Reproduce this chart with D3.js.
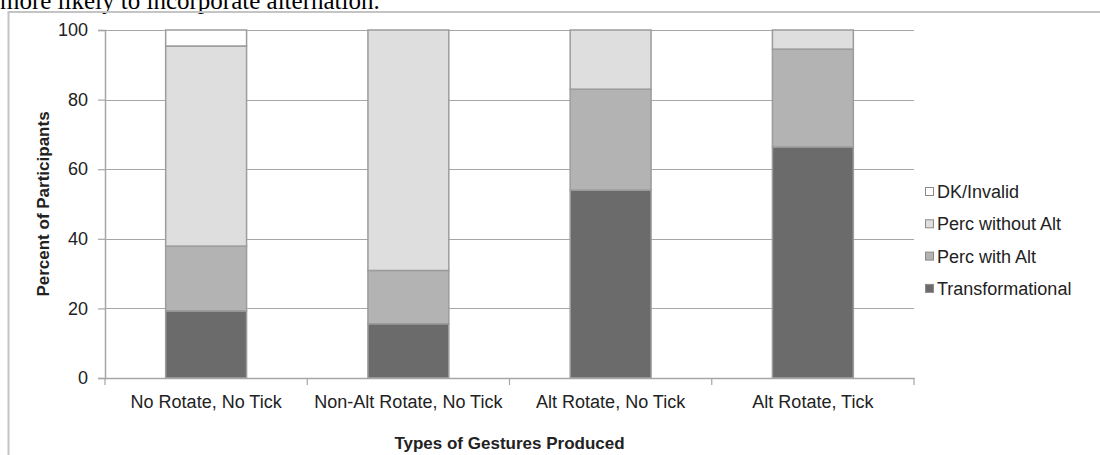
<!DOCTYPE html>
<html>
<head>
<meta charset="utf-8">
<script src="https://cdn.jsdelivr.net/npm/d3@7"></script>
<style>
  body { margin: 0; background: #fff; }
  svg { display: block; }
  text { font-family: "Liberation Sans", Arial, sans-serif; fill: #222; }
</style>
</head>
<body>
<div id="chart"></div>
<script>
// data
const categories = ["No Rotate, No Tick", "Non-Alt Rotate, No Tick", "Alt Rotate, No Tick", "Alt Rotate, Tick"];
const seriesNames = ["Transformational", "Perc with Alt", "Perc without Alt", "DK/Invalid"];
const transformational = [19.3, 15.6, 54.0, 66.4];
const percWithAlt = [18.6, 15.3, 29.0, 28.1];
const percWithoutAlt = [57.5, 69.1, 17.0, 5.5];
const dkInvalid = [4.6, 0, 0, 0];
const yTicks = [0, 20, 40, 60, 80, 100];

const colors = ["#6b6b6b", "#b3b3b3", "#dedede", "#ffffff"];

const width = 1100;
const height = 455;
const margin = {left: 105, right: 186, top: 30, bottom: 77};

const svg = d3.select("#chart")
  .append("svg")
  .attr("width", width)
  .attr("height", height);

// caption text, cut off at the top like in the source
svg.append("text")
  .attr("x", 0)
  .attr("y", 9)
  .style("font-family", "'Liberation Serif', 'Times New Roman', serif")
  .style("font-size", "25px")
  .style("fill", "#000")
  .text("more likely to incorporate alternation.");

// chart frame
svg.append("path")
  .attr("d", `M8.5,${height} V12 H${width}`)
  .attr("fill", "none")
  .attr("stroke", "#c4c4c4")
  .attr("stroke-width", 2);

const x = d3.scaleBand()
  .domain(categories)
  .range([margin.left, width - margin.right])
  .paddingInner(0.6)
  .paddingOuter(0.3);

const y = d3.scaleLinear()
  .domain([0, 100])
  .range([height - margin.bottom, margin.top]);

// gridlines
svg.append("g")
  .selectAll("line")
  .data(yTicks.filter(d => d > 0))
  .enter()
  .append("line")
  .attr("x1", margin.left)
  .attr("x2", width - margin.right)
  .attr("y1", d => Math.round(y(d)) + 0.5)
  .attr("y2", d => Math.round(y(d)) + 0.5)
  .attr("stroke", "#a6a6a6")
  .attr("stroke-width", 1.2);

// stack the series
const rows = categories.map((c, i) => ({
  cat: c,
  "Transformational": transformational[i],
  "Perc with Alt": percWithAlt[i],
  "Perc without Alt": percWithoutAlt[i],
  "DK/Invalid": dkInvalid[i]
}));
const stacked = d3.stack().keys(seriesNames)(rows);

const layers = svg.append("g")
  .selectAll("g")
  .data(stacked)
  .enter()
  .append("g")
  .attr("fill", (d, i) => colors[i]);

layers.selectAll("rect")
  .data(d => d.filter(s => s[1] - s[0] > 0))
  .enter()
  .append("rect")
  .attr("x", d => x(d.data.cat))
  .attr("width", x.bandwidth())
  .attr("y", d => y(d[1]))
  .attr("height", d => y(d[0]) - y(d[1]))
  .attr("stroke", "#9c9c9c")
  .attr("stroke-width", 1.5);

// y axis
const yAxis = svg.append("g")
  .attr("transform", `translate(${margin.left},0)`)
  .call(d3.axisLeft(y).tickValues(yTicks).tickSize(7).tickPadding(10));
yAxis.select(".domain").attr("stroke", "#a6a6a6").attr("stroke-width", 1.5);
yAxis.selectAll(".tick line").attr("stroke", "#a6a6a6").attr("stroke-width", 1.2);
yAxis.selectAll(".tick text")
  .style("font-family", "'Liberation Sans', Arial, sans-serif")
  .style("font-size", "18px")
  .attr("fill", "#222");

// x axis
const xAxis = svg.append("g")
  .attr("transform", `translate(0,${height - margin.bottom})`)
  .call(d3.axisBottom(x).tickSize(0).tickPadding(17));
xAxis.select(".domain").attr("stroke", "#a6a6a6").attr("stroke-width", 1.5);
xAxis.selectAll(".tick text")
  .style("font-family", "'Liberation Sans', Arial, sans-serif")
  .style("font-size", "18px")
  .attr("fill", "#222");

// boundary ticks between categories
const bounds = d3.range(categories.length + 1).map(i => margin.left + i * (width - margin.left - margin.right) / categories.length);
svg.append("g")
  .selectAll("line")
  .data(bounds)
  .enter()
  .append("line")
  .attr("x1", d => d)
  .attr("x2", d => d)
  .attr("y1", height - margin.bottom)
  .attr("y2", height - margin.bottom + 7)
  .attr("stroke", "#a6a6a6")
  .attr("stroke-width", 1.2);

// axis titles
svg.append("text")
  .attr("transform", `translate(49,${(y(0) + y(100)) / 2}) rotate(-90)`)
  .attr("text-anchor", "middle")
  .style("font-size", "17px")
  .style("font-weight", "bold")
  .text("Percent of Participants");

svg.append("text")
  .attr("x", (margin.left + width - margin.right) / 2)
  .attr("y", 449)
  .attr("text-anchor", "middle")
  .style("font-size", "17px")
  .style("font-weight", "bold")
  .text("Types of Gestures Produced");

// legend, top entry is the top of the stack
const legendItems = seriesNames.slice().reverse();
const legend = svg.append("g")
  .attr("transform", "translate(925,187)");

const entry = legend.selectAll("g")
  .data(legendItems)
  .enter()
  .append("g")
  .attr("transform", (d, i) => `translate(0,${i * 32.3})`);

entry.append("rect")
  .attr("x", 0.5)
  .attr("y", 0.5)
  .attr("width", 8)
  .attr("height", 8)
  .attr("fill", d => colors[seriesNames.indexOf(d)])
  .attr("stroke", "#8a8a8a")
  .attr("stroke-width", 1);

entry.append("text")
  .attr("x", 12)
  .attr("y", 11)
  .style("font-size", "18px")
  .text(d => d);
</script>
</body>
</html>
